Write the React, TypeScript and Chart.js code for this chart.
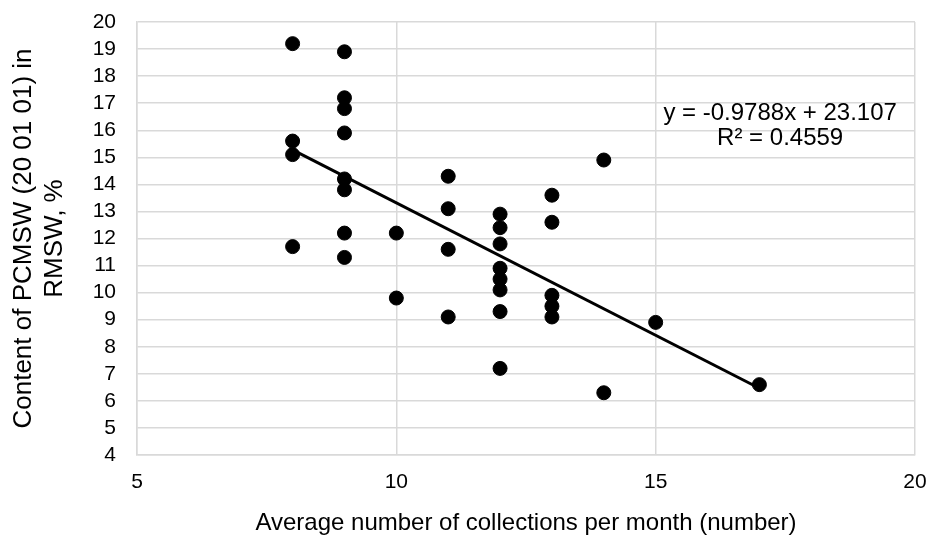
import React, { useEffect, useRef } from 'react';
import { Chart, registerables } from 'chart.js';

Chart.register(...registerables);

// Average number of collections per month
const xValues = [
  8, 8, 8, 8,
  9, 9, 9, 9, 9, 9, 9, 9,
  10, 10,
  11, 11, 11, 11,
  12, 12, 12, 12, 12, 12, 12, 12,
  13, 13, 13, 13, 13,
  14, 14,
  15,
  17,
];
// Content of PCMSW in RMSW, %
const yValues = [
  19.2, 15.6, 15.1, 11.7,
  18.9, 17.2, 16.8, 15.9, 14.2, 13.8, 12.2, 11.3,
  12.2, 9.8,
  14.3, 13.1, 11.6, 9.1,
  12.9, 12.4, 11.8, 10.9, 10.5, 10.1, 9.3, 7.2,
  13.6, 12.6, 9.9, 9.5, 9.1,
  14.9, 6.3,
  8.9,
  6.6,
];
// Linear trend line end points
const trendX = [8, 17];
const trendY = [15.277, 6.467];
const equationLines = ['y = -0.9788x + 23.107', 'R² = 0.4559'];
const xTitle = 'Average number of collections per month (number)';
const yTitle = ['Content of PCMSW (20 01 01) in', 'RMSW, %'];

const FONT = '"Liberation Sans", Arial, sans-serif';

const equationPlugin = {
  id: 'equationLabel',
  afterDatasetsDraw(chart: any) {
    const { ctx, scales } = chart;
    const px = scales.x.getPixelForValue(17.4);
    const py = scales.y.getPixelForValue(16.64);
    ctx.save();
    ctx.font = `24px ${FONT}`;
    ctx.fillStyle = '#000';
    ctx.textAlign = 'center';
    ctx.textBaseline = 'middle';
    equationLines.forEach((line, i) => ctx.fillText(line, px, py + i * 25));
    ctx.restore();
  },
};

export default function App() {
  const ref = useRef<HTMLCanvasElement>(null);

  useEffect(() => {
    document.body.style.margin = '0';
    const points = xValues.map((x, i) => ({ x, y: yValues[i] }));
    const trend = trendX.map((x, i) => ({ x, y: trendY[i] }));
    const grid = '#d9d9d9';
    const chart = new Chart(ref.current as HTMLCanvasElement, {
      type: 'scatter',
      data: {
        datasets: [
          {
            data: trend,
            showLine: true,
            borderColor: '#000',
            borderWidth: 3,
            pointRadius: 0,
            pointHoverRadius: 0,
          },
          {
            data: points,
            backgroundColor: '#000',
            borderColor: '#000',
            borderWidth: 1,
            pointRadius: 7,
          },
        ],
      },
      options: {
        responsive: false,
        animation: false,
        layout: { padding: { top: 22, right: 15, left: 0, bottom: 0 } },
        plugins: {
          legend: { display: false },
          tooltip: { enabled: false },
        },
        scales: {
          x: {
            type: 'linear',
            min: 5,
            max: 20,
            afterFit: (s: any) => { s.height = 88; },
            ticks: {
              stepSize: 5,
              padding: 0,
              autoSkip: false,
              color: '#000',
              font: { family: FONT, size: 21 },
            },
            grid: {
              color: grid,
              lineWidth: 1.5,
              drawTicks: true,
              tickLength: 15,
              tickColor: 'rgba(0,0,0,0)',
            },
            border: { color: grid, width: 1.5 },
            title: {
              display: true,
              text: xTitle,
              color: '#000',
              font: { family: FONT, size: 24 },
              padding: { top: 0, bottom: 5 },
            },
          },
          y: {
            type: 'linear',
            min: 4,
            max: 20,
            afterFit: (s: any) => { s.width = 137; },
            ticks: {
              stepSize: 1,
              padding: 0,
              autoSkip: false,
              color: '#000',
              font: { family: FONT, size: 21 },
            },
            grid: {
              color: grid,
              lineWidth: 1.5,
              drawTicks: true,
              tickLength: 21,
              tickColor: 'rgba(0,0,0,0)',
            },
            border: { color: grid, width: 1.5 },
            title: {
              display: true,
              text: yTitle,
              color: '#000',
              font: { family: FONT, size: 26 },
              padding: { top: 8, bottom: 0 },
            },
          },
        },
      },
      plugins: [equationPlugin],
    } as any);
    return () => chart.destroy();
  }, []);

  return (
    <div style={{ position: 'absolute', left: 0, top: 0, width: 930, height: 543 }}>
      <canvas ref={ref} width={930} height={543} />
    </div>
  );
}
